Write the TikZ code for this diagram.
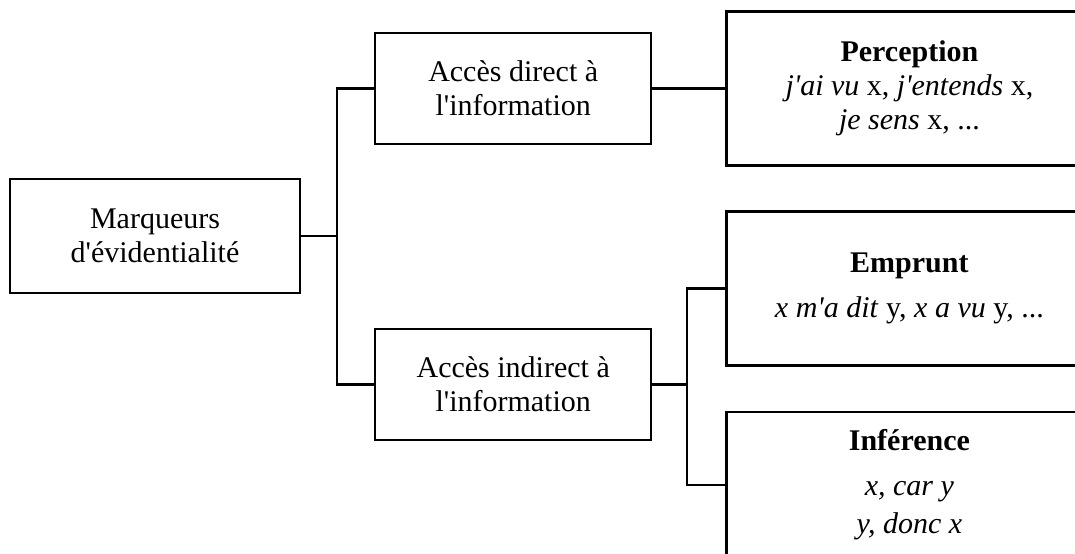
\documentclass[tikz,border=0pt]{standalone}
\usepackage{fontspec}
\setmainfont{Liberation Serif}[Ligatures=TeXOff]
\usetikzlibrary{positioning}

\begin{document}
\begin{tikzpicture}[
    x=0.5pt, y=-0.5pt,
    every node/.style={font=\fontsize{15}{17}\selectfont},
    root/.style={rectangle, draw, line width=1.1pt, inner sep=0pt, minimum width=145pt, minimum height=57pt, align=center},
    access/.style={rectangle, draw, line width=1.1pt, inner sep=0pt, minimum width=138pt, minimum height=55.5pt, align=center},
    kind/.style={rectangle, draw, line width=1.1pt, inner sep=0pt, minimum width=183pt, minimum height=77pt, align=center},
    link/.style={line width=1.1pt}
]
    \useasboundingbox (0,0) rectangle (1075,553);
    \clip (0,0) rectangle (1075,553);

    % Root
    \node[root] (marq) at (155,236) {Marqueurs\\d'évidentialité};

    % Access types
    \node[access, right=36.5pt of marq, yshift=73.75pt] (direct) {Accès direct à\\l'information};
    \node[access, right=36.5pt of marq, yshift=-74.25pt] (indirect) {Accès indirect à\\l'information};

    % Kinds of evidence
    \node[kind, right=36.5pt of direct] (perc) {\textbf{Perception}\\\textit{j'ai vu} x, \textit{j'entends} x,\\\textit{je sens} x, ...};
    \node[kind, right=36.5pt of indirect, yshift=48pt] (empr) {\textbf{Emprunt}\\[5.5pt]\textit{x m'a dit} y, \textit{x a vu} y, ...};
    \node[kind, minimum height=73pt, right=36.5pt of indirect, yshift=-50.25pt] (infer) {\textbf{Inférence}\\[5.5pt]\textit{x, car y}\\[2pt]\textit{y, donc x}};

    % Connectors
    \coordinate[right=18pt of marq.east] (fork1);
    \draw[link] (marq.east) -- (fork1) |- (direct.west);
    \draw[link] (fork1) |- (indirect.west);
    \draw[link] (direct.east) -- (perc.west);
    \coordinate[right=17.5pt of indirect.east] (fork2);
    \draw[link] (indirect.east) -- (fork2) |- (empr.west);
    \draw[link] (fork2) |- (infer.west);

\end{tikzpicture}
\end{document}
